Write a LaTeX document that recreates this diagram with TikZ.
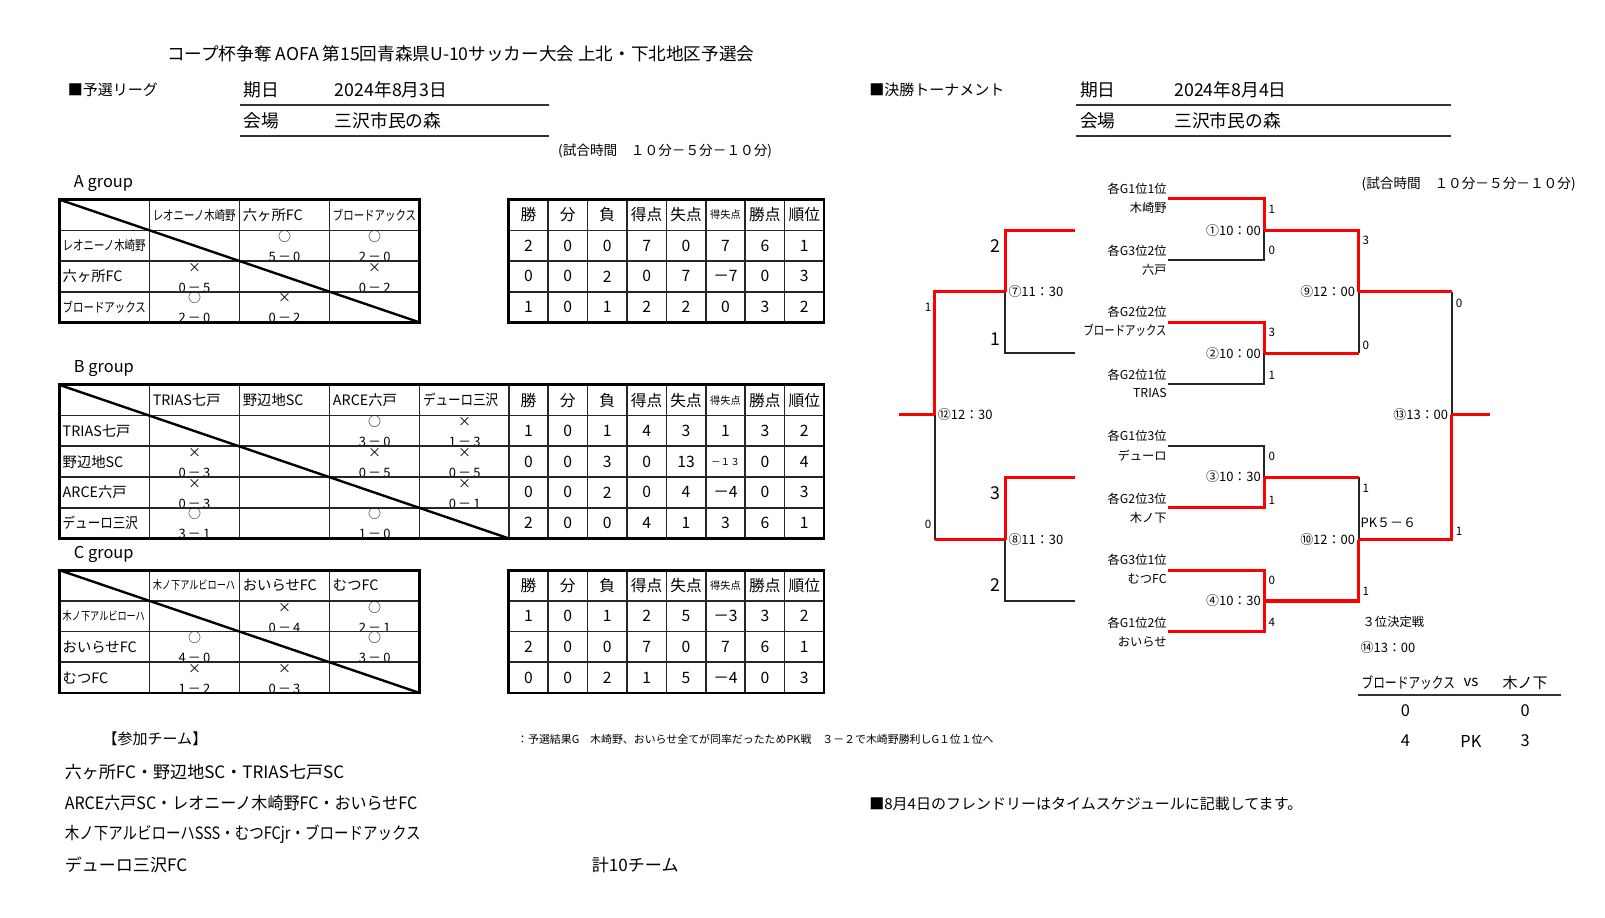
\documentclass[tikz,border=0pt]{standalone}
\usepackage{fontspec}
\setmainfont{Noto Sans CJK JP}
\newfontfamily\narrowjp[FakeStretch=0.78]{Noto Sans CJK JP}
\newfontfamily\listjp[FakeStretch=0.85]{Noto Sans CJK JP}
\newfontfamily\semijp[FakeStretch=0.94]{Noto Sans CJK JP}
\usepackage{xcolor}
\usepackage{tikz}

\tikzset{
  lbl/.style={inner sep=0pt, anchor=west},
  big/.style={lbl, font=\fontsize{13}{15}\selectfont},
  midtxt/.style={lbl, font=\fontsize{11}{13}\selectfont},
  tname/.style={lbl, font=\fontsize{10.5}{12}\selectfont},
  narrow/.style={lbl, font=\narrowjp\fontsize{9.8}{11}\selectfont},
  cell/.style={inner sep=0pt, font=\fontsize{11.5}{13}\selectfont},
  resmark/.style={inner sep=0pt, anchor=base, text height=6.5pt, text depth=0pt,
    font=\fontsize{9.5}{11}\selectfont},
  rule/.style={line width=1.5pt, black!80},
  tabgrid/.style={line width=1.2pt, black!85},
  tabframe/.style={line width=2.2pt},
  diag/.style={line width=1.8pt},
  win/.style={red, line width=2.3pt},
  lose/.style={black!85, line width=1.4pt},
  team/.style={inner sep=0pt, anchor=east, font=\fontsize{9}{11}\selectfont},
  match/.style={inner sep=0pt, font=\fontsize{9.5}{11}\selectfont},
  score/.style={inner sep=0pt, anchor=west, font=\fontsize{8.5}{10}\selectfont},
  bigscore/.style={inner sep=0pt, anchor=east, font=\fontsize{13}{15}\selectfont},
}

% one result cell: name, left x, top y, mark, score
\newcommand{\res}[5]{%
  \begin{scope}
    \clip (#2,#3) rectangle ++(88,30);
    \node[resmark] (#1m) at (#2+44,#3+11) {#4};
    \node[resmark] (#1s) at (#2+44,#3+30.5) {#5};
  \end{scope}}

% points table: prefix, header centre y, rows
\newcommand{\statvals}[3]{%
  \foreach \h [count=\c] in {勝,分,負,得点,失点,{\fontsize{7.5}{9}\selectfont 得失点},勝点,順位}
    \node[cell] (#1-0-\c) at ({497+38.5*(\c-0.5)},#2) {\h};
  \foreach \row [count=\r] in {#3}
    \foreach \v [count=\c] in \row
      \node[cell] (#1-\r-\c) at ({497+38.5*(\c-0.5)},{#2+30*\r}) {\v};
}

% points table grid: top y, bottom y, inner rows
\newcommand{\statgrid}[3]{%
  \foreach \x in {535.5,574,612.5,651,689.5,728,766.5}
    \draw[tabgrid] (\x,#1) -- (\x,#2);
  \foreach \k in {1,...,#3}
    \draw[tabgrid] (497,{#1+30*\k}) -- (805,{#1+30*\k});
}

\begin{document}
\begin{tikzpicture}[x=0.75pt, y=-0.75pt, scale=1.0235, transform shape]
  \path[fill=white] (0,0) rectangle (1568,896);
  \useasboundingbox (0,0) rectangle (1568,896);

  % heading
  \node[lbl, font=\fontsize{12.9}{14}\selectfont] (title) at (163,53)
    {コープ杯争奪 AOFA 第15回青森県U-10サッカー大会 上北・下北地区予選会};

  \node[midtxt] (league) at (66,88) {■予選リーグ};
  \node[big] (day1k) at (238,88) {期日};
  \node[big] (day1v) at (327,88) {2024年8月3日};
  \draw[rule] (234,103) -- (536,103);
  \node[big] (site1k) at (238,118) {会場};
  \node[big] (site1v) at (327,118) {三沢市民の森};
  \draw[rule] (234,133) -- (536,133);
  \node[lbl, font=\fontsize{10}{12}\selectfont] (time1) at (545,148)
    {(試合時間　１０分－５分－１０分)};

  \node[midtxt] (final) at (849,88) {■決勝トーナメント};
  \node[big] (day2k) at (1055,88) {期日};
  \node[big] (day2v) at (1147,88) {2024年8月4日};
  \draw[rule] (1051,103) -- (1418,103);
  \node[big] (site2k) at (1055,118) {会場};
  \node[big] (site2v) at (1147,118) {三沢市民の森};
  \draw[rule] (1051,133) -- (1418,133);
  \node[lbl, font=\fontsize{10}{12}\selectfont] (time2) at (1330,180)
    {(試合時間　１０分－５分－１０分)};

  % A group
  \node[big, font=\fontsize{12}{14}\selectfont] (ga) at (72,179) {A group};
  \res{a12}{234}{225}{○}{5\,－\,0}
  \res{a13}{322}{225}{○}{2\,－\,0}
  \res{a21}{146}{255}{×}{0\,－\,5}
  \res{a23}{322}{255}{×}{0\,－\,2}
  \res{a31}{146}{285}{○}{2\,－\,0}
  \res{a32}{234}{285}{×}{0\,－\,2}
  \foreach \x in {146,234,322}
    \draw[tabgrid] (\x,195) -- (\x,315);
  \foreach \y in {225,255,285}
    \draw[tabgrid] (58,\y) -- (410,\y);
  \draw[diag] (58,195) -- (410,315);
  \draw[tabframe] (58,195) rectangle (410,315);
  \node[narrow] (ah1) at (149,210) {レオニーノ木崎野};
  \node[tname] (ah2) at (237,210) {六ヶ所FC};
  \node[narrow] (ah3) at (325,210) {ブロードアックス};
  \node[narrow] (ar1) at (61,240) {レオニーノ木崎野};
  \node[tname] (ar2) at (61,270) {六ヶ所FC};
  \node[narrow] (ar3) at (61,300) {ブロードアックス};

  \statgrid{195}{315}{3}
  \draw[tabframe] (497,195) rectangle (805,315);
  \statvals{sa}{210}{{2,0,0,7,0,7,6,1},{0,0,2,0,7,－7,0,3},{1,0,1,2,2,0,3,2}}

  % B group
  \node[big, font=\fontsize{12}{14}\selectfont] (gb) at (72,360) {B group};
  \res{b13}{322}{406}{○}{3\,－\,0}
  \res{b14}{410}{406}{×}{1\,－\,3}
  \res{b21}{146}{436}{×}{0\,－\,3}
  \res{b23}{322}{436}{×}{0\,－\,5}
  \res{b24}{410}{436}{×}{0\,－\,5}
  \res{b31}{146}{466}{×}{0\,－\,3}
  \res{b34}{410}{466}{×}{0\,－\,1}
  \res{b41}{146}{496}{○}{3\,－\,1}
  \res{b43}{322}{496}{○}{1\,－\,0}
  \foreach \x in {146,234,322,410,497}
    \draw[tabgrid] (\x,376) -- (\x,526);
  \foreach \y in {406,436,466,496}
    \draw[tabgrid] (58,\y) -- (805,\y);
  \statgrid{376}{526}{4}
  \draw[diag] (58,376) -- (497,526);
  \draw[tabframe] (58,376) rectangle (805,526);
  \node[tname] (bh1) at (149,391) {TRIAS七戸};
  \node[tname] (bh2) at (237,391) {野辺地SC};
  \node[tname] (bh3) at (325,391) {ARCE六戸};
  \node[tname, font=\listjp\fontsize{10.8}{12}\selectfont] (bh4) at (413,391) {デューロ三沢};
  \node[tname] (br1) at (61,421) {TRIAS七戸};
  \node[tname] (br2) at (61,451) {野辺地SC};
  \node[tname] (br3) at (61,481) {ARCE六戸};
  \node[tname, font=\listjp\fontsize{10.8}{12}\selectfont] (br4) at (61,511) {デューロ三沢};
  \statvals{sb}{391}{{1,0,1,4,3,1,3,2},{0,0,3,0,13,{\fontsize{7}{8}\selectfont －１３},0,4},{0,0,2,0,4,－4,0,3},{2,0,0,4,1,3,6,1}}

  % C group
  \node[big, font=\fontsize{12}{14}\selectfont] (gc) at (72,542) {C group};
  \res{c12}{234}{587}{×}{0\,－\,4}
  \res{c13}{322}{587}{○}{2\,－\,1}
  \res{c21}{146}{617}{○}{4\,－\,0}
  \res{c23}{322}{617}{○}{3\,－\,0}
  \res{c31}{146}{647}{×}{1\,－\,2}
  \res{c32}{234}{647}{×}{0\,－\,3}
  \foreach \x in {146,234,322}
    \draw[tabgrid] (\x,557) -- (\x,677);
  \foreach \y in {587,617,647}
    \draw[tabgrid] (58,\y) -- (410,\y);
  \draw[diag] (58,557) -- (410,677);
  \draw[tabframe] (58,557) rectangle (410,677);
  \node[narrow, font=\narrowjp\fontsize{8.6}{10}\selectfont] (ch1) at (149,572) {木ノ下アルビローハ};
  \node[tname] (ch2) at (237,572) {おいらせFC};
  \node[tname] (ch3) at (325,572) {むつFC};
  \node[narrow, font=\narrowjp\fontsize{8.6}{10}\selectfont] (cr1) at (61,602) {木ノ下アルビローハ};
  \node[tname] (cr2) at (61,632) {おいらせFC};
  \node[tname] (cr3) at (61,662) {むつFC};

  \statgrid{557}{677}{3}
  \draw[tabframe] (497,557) rectangle (805,677);
  \statvals{sc}{572}{{1,0,1,2,5,－3,3,2},{2,0,0,7,0,7,6,1},{0,0,2,1,5,－4,0,3}}

  % bracket points
  \foreach \n/\y in {1/194,2/254,3/315,4/375,5/436,6/496,7/557,8/617}
    \coordinate (t\n) at (1141,\y);
  \foreach \n/\y in {1/225,2/345,3/466,4/587}
    \coordinate (m\n) at (1235,\y);
  \foreach \n/\y in {1/225,2/345,3/466,4/587}
    \coordinate (u\n) at (1050,\y);
  \coordinate (m9) at (1327,285);
  \coordinate (m10) at (1327,527);
  \coordinate (m13) at (1418,405);
  \coordinate (m7) at (982,285);
  \coordinate (m8) at (982,527);
  \coordinate (m12) at (913,405);
  \coordinate (champR) at (1455,405);
  \coordinate (champL) at (878,405);

  % losing sides
  \draw[lose] (t2) -| (m1);
  \draw[lose] (t4) -| (m2);
  \draw[lose] (t5) -| (m3);
  \draw[lose] (m2 -| m9) -- (m9);
  \draw[lose] (m3 -| m10) -- (m10);
  \draw[lose] (m9 -| m13) -- (m13);
  \draw[lose] (u2) -| (m7);
  \draw[lose] (u4) -| (m8);
  \draw[lose] (m8 -| m12) -- (m12);

  % winning sides
  \draw[win] (t1) -| (m1);
  \draw[win] (t3) -| (m2);
  \draw[win] (t6) -| (m3);
  \draw[win] (t7) -| (m4);
  \draw[win] (t8) -| (m4);
  \draw[win] (m1) -| (m9);
  \draw[win] (m2) -- (m2 -| m9);
  \draw[win] (m3) -- (m3 -| m10);
  \draw[win] (m4) -| (m10);
  \draw[win] (m9) -- (m9 -| m13);
  \draw[win] (m10) -| (m13);
  \draw[win] (m13) -- (champR);
  \draw[win] (u1) -| (m7);
  \draw[win] (u3) -| (m8);
  \draw[win] (m7) -| (m12);
  \draw[win] (m8) -- (m8 -| m12);
  \draw[win] (m12) -- (champL);

  % teams
  \node[team] (g1) at (1140,184) {各G1位1位};
  \node[team] (n1) at (1140,203) {木崎野};
  \node[team] (g2) at (1140,245) {各G3位2位};
  \node[team] (n2) at (1140,264) {六戸};
  \node[team] (g3) at (1140,305) {各G2位2位};
  \node[team, font=\narrowjp\fontsize{9.8}{11}\selectfont] (n3) at (1140,323) {ブロードアックス};
  \node[team] (g4) at (1140,366) {各G2位1位};
  \node[team] (n4) at (1140,384) {TRIAS};
  \node[team] (g5) at (1140,426) {各G1位3位};
  \node[team] (n5) at (1140,445) {デューロ};
  \node[team] (g6) at (1140,487) {各G2位3位};
  \node[team] (n6) at (1140,506) {木ノ下};
  \node[team] (g7) at (1140,547) {各G3位1位};
  \node[team] (n7) at (1140,566) {むつFC};
  \node[team] (g8) at (1140,608) {各G1位2位};
  \node[team] (n8) at (1140,627) {おいらせ};

  % match numbers and times
  \node[match, anchor=east] (l1) at (1232,225) {①10：00};
  \node[match, anchor=east] (l2) at (1232,345) {②10：00};
  \node[match, anchor=east] (l3) at (1232,466) {③10：30};
  \node[match, anchor=east] (l4) at (1232,587) {④10：30};
  \node[match, anchor=east] (l9) at (1324,285) {⑨12：00};
  \node[match, anchor=east] (l10) at (1324,527) {⑩12：00};
  \node[match, anchor=east] (l13) at (1415,405) {⑬13：00};
  \node[match, anchor=west] (l7) at (985,285) {⑦11：30};
  \node[match, anchor=west] (l8) at (985,527) {⑧11：30};
  \node[match, anchor=west] (l12) at (916,405) {⑫12：30};

  % scores
  \node[score] (s1a) at (1239,205) {1};
  \node[score] (s1b) at (1239,245) {0};
  \node[score] (s2a) at (1239,325) {3};
  \node[score] (s2b) at (1239,367) {1};
  \node[score] (s3a) at (1239,446) {0};
  \node[score] (s3b) at (1239,489) {1};
  \node[score] (s4a) at (1239,567) {0};
  \node[score] (s4b) at (1239,608) {4};
  \node[score] (s9a) at (1331,235) {3};
  \node[score] (s9b) at (1331,337) {0};
  \node[score] (s10a) at (1331,477) {1};
  \node[score] (s10b) at (1331,578) {1};
  \node[score, font=\fontsize{9.5}{11}\selectfont] (pk10) at (1329,511) {PK５－６};
  \node[score] (s13a) at (1422,296) {0};
  \node[score] (s13b) at (1422,519) {1};
  \node[bigscore] (s7a) at (978,240) {2};
  \node[bigscore] (s7b) at (978,331) {1};
  \node[bigscore] (s8a) at (978,482) {3};
  \node[bigscore] (s8b) at (978,572) {2};
  \node[score, anchor=east] (s12a) at (910,300) {1};
  \node[score, anchor=east] (s12b) at (910,512) {0};

  % third place
  \node[lbl, font=\fontsize{9}{11}\selectfont] (third) at (1331,608) {３位決定戦};
  \node[match, anchor=west] (l14) at (1329,633) {⑭13：00};
  \node[narrow, font=\narrowjp\fontsize{11}{13}\selectfont] (p1) at (1330,667) {ブロードアックス};
  \node[midtxt, anchor=center] (vs) at (1437,667) {vs};
  \node[midtxt, anchor=center] (p2) at (1490,667) {木ノ下};
  \draw[rule] (1327,679) -- (1525,679);
  \node[midtxt, anchor=center, font=\fontsize{12}{14}\selectfont] (r1) at (1373,694) {0};
  \node[midtxt, anchor=center, font=\fontsize{12}{14}\selectfont] (r2) at (1490,694) {0};
  \node[midtxt, anchor=center, font=\fontsize{12}{14}\selectfont] (k1) at (1373,724) {4};
  \node[midtxt, anchor=center, font=\fontsize{12}{14}\selectfont] (pk) at (1437,724) {PK};
  \node[midtxt, anchor=center, font=\fontsize{12}{14}\selectfont] (k2) at (1490,724) {3};

  % notes
  \node[lbl, font=\fontsize{8}{10}\selectfont] (memo) at (505,722)
    {：予選結果G　木崎野、おいらせ全てが同率だったためPK戦　３－２で木崎野勝利しG１位１位へ};
  \node[midtxt] (entry) at (100,722) {【参加チーム】};
  \node[big, font=\fontsize{12.5}{14}\selectfont] (list1) at (63,754) {六ヶ所FC・野辺地SC・TRIAS七戸SC};
  \node[big, font=\semijp\fontsize{12.5}{14}\selectfont] (list2) at (63,785) {ARCE六戸SC・レオニーノ木崎野FC・おいらせFC};
  \node[big, font=\listjp\fontsize{12.5}{14}\selectfont] (list3) at (63,815) {木ノ下アルビローハSSS・むつFCjr・ブロードアックス};
  \node[big, font=\fontsize{12.5}{14}\selectfont] (list4) at (63,845) {デューロ三沢FC};
  \node[big, font=\fontsize{12.5}{14}\selectfont] (total) at (578,845) {計10チーム};
  \node[big, font=\fontsize{11}{13}\selectfont] (friendly) at (849,785)
    {■8月4日のフレンドリーはタイムスケジュールに記載してます。};
\end{tikzpicture}
\end{document}
